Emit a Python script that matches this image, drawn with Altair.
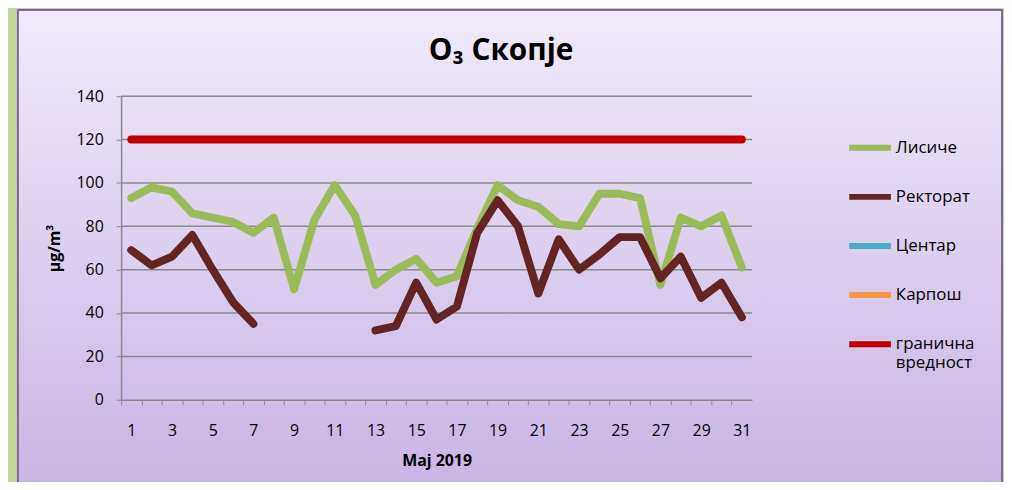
import altair as alt
import pandas as pd

days = list(range(1, 32))
lisice = [93, 98, 96, 86, 84, 82, 77, 84, 51, 83, 99, 85, 53, 60, 65, 54, 57, 79, 99, 92, 89, 81, 80, 95, 95, 93, 53, 84, 80, 85, 61]
rektorat = [69, 62, 66, 76, 60, 45, 35, None, None, None, None, None, 32, 34, 54, 37, 43, 77, 92, 80, 49, 74, 60, 67, 75, 75, 56, 66, 47, 54, 38]
granicna = [120] * 31
series_names = ["Лисиче", "Ректорат", "Центар", "Карпош", "гранична вредност"]
series_colors = ["#9bbb59", "#632523", "#4bacc6", "#f79646", "#c00000"]
grid_values = [20, 40, 60, 80, 100, 120, 140]

rows = []
for name, vals in [("Лисиче", lisice), ("Ректорат", rektorat), ("гранична вредност", granicna)]:
    for d, v in zip(days, vals):
        rows.append({"day": d, "value": v, "series": name})
df = pd.DataFrame(rows)

W, H = 636, 306
FONT = "Open Sans"

box = alt.Chart(pd.DataFrame({"a": [0]})).mark_rect(
    fill=alt.Gradient(
        gradient="linear",
        stops=[alt.GradientStop(color="#f0eaf9", offset=0), alt.GradientStop(color="#c8b4e4", offset=1)],
        x1=0, x2=0, y1=0, y2=1,
    ),
    stroke="#8064a2",
    strokeWidth=2,
).encode(
    x=alt.value(-104), x2=alt.value(888), y=alt.value(-87), y2=alt.value(400)
)

grid = alt.Chart(pd.DataFrame({"g": grid_values})).mark_rule(
    color="#8a8a8a", strokeWidth=1.5
).encode(y=alt.Y("g:Q", scale=alt.Scale(domain=[0, 140])))

lines = alt.Chart(df).mark_line(
    strokeWidth=8, strokeCap="round", strokeJoin="round", invalid="break-paths-show-domains"
).encode(
    x=alt.X(
        "day:O",
        scale=alt.Scale(type="point", padding=0.5),
        axis=alt.Axis(
            title="Мај 2019",
            labelExpr="datum.value % 2 == 1 ? datum.label : ''",
            labelAngle=0,
            tickOffset=-10.26,
            labelOffset=10.26,
            tickSize=5,
            labelPadding=18,
            labelFontSize=16,
            labelFont=FONT,
            labelColor="#000000",
            titleFont=FONT,
            titleFontSize=16,
            titleFontWeight="bold",
            titleColor="#000000",
            titleBaseline="middle",
            titleY=61,
            domainColor="#8a8a8a",
            tickColor="#8a8a8a",
            domainWidth=1.5,
            zindex=1,
        ),
    ),
    y=alt.Y(
        "value:Q",
        scale=alt.Scale(domain=[0, 140]),
        axis=alt.Axis(
            title="µg/m³",
            values=[0, 20, 40, 60, 80, 100, 120, 140],
            grid=False,
            tickSize=5,
            labelPadding=13,
            labelFontSize=16,
            labelFont=FONT,
            labelColor="#000000",
            titleFont=FONT,
            titleFontSize=16,
            titleFontWeight="bold",
            titleColor="#000000",
            titleBaseline="middle",
            titleX=-67,
            titleY=153,
            titleAngle=-90,
            domainColor="#8a8a8a",
            tickColor="#8a8a8a",
            domainWidth=1.5,
            zindex=1,
        ),
    ),
    color=alt.Color(
        "series:N",
        scale=alt.Scale(domain=series_names, range=series_colors),
        sort=series_names,
        legend=alt.Legend(
            title=None,
            orient="none",
            legendX=731,
            legendY=28,
            symbolType="stroke",
            symbolSize=1764,
            symbolStrokeWidth=6,
            labelFont=FONT,
            labelFontSize=17,
            labelColor="#000000",
            labelOffset=2,
            rowPadding=13.5,
            padding=0,
            labelExpr="datum.label == 'гранична вредност' ? ['гранична', 'вредност'] : datum.label",
            zindex=1,
        ),
    ),
)

chart = alt.layer(box, grid, lines).properties(
    width=W,
    height=H,
    background="#c3d69b",
    padding={"left": 114, "top": 87, "right": 254, "bottom": 81},
    autosize=alt.AutoSizeParams(type="none"),
    title=alt.TitleParams(
        text="O₃ Скопје",
        font=FONT,
        fontSize=30,
        fontWeight="bold",
        color="#000000",
        anchor="middle",
        baseline="alphabetic",
        dx=65,
        offset=-82,
    ),
).configure_view(stroke=None)

chart.save("out.html", embed_options={"renderer": "svg", "actions": False})
